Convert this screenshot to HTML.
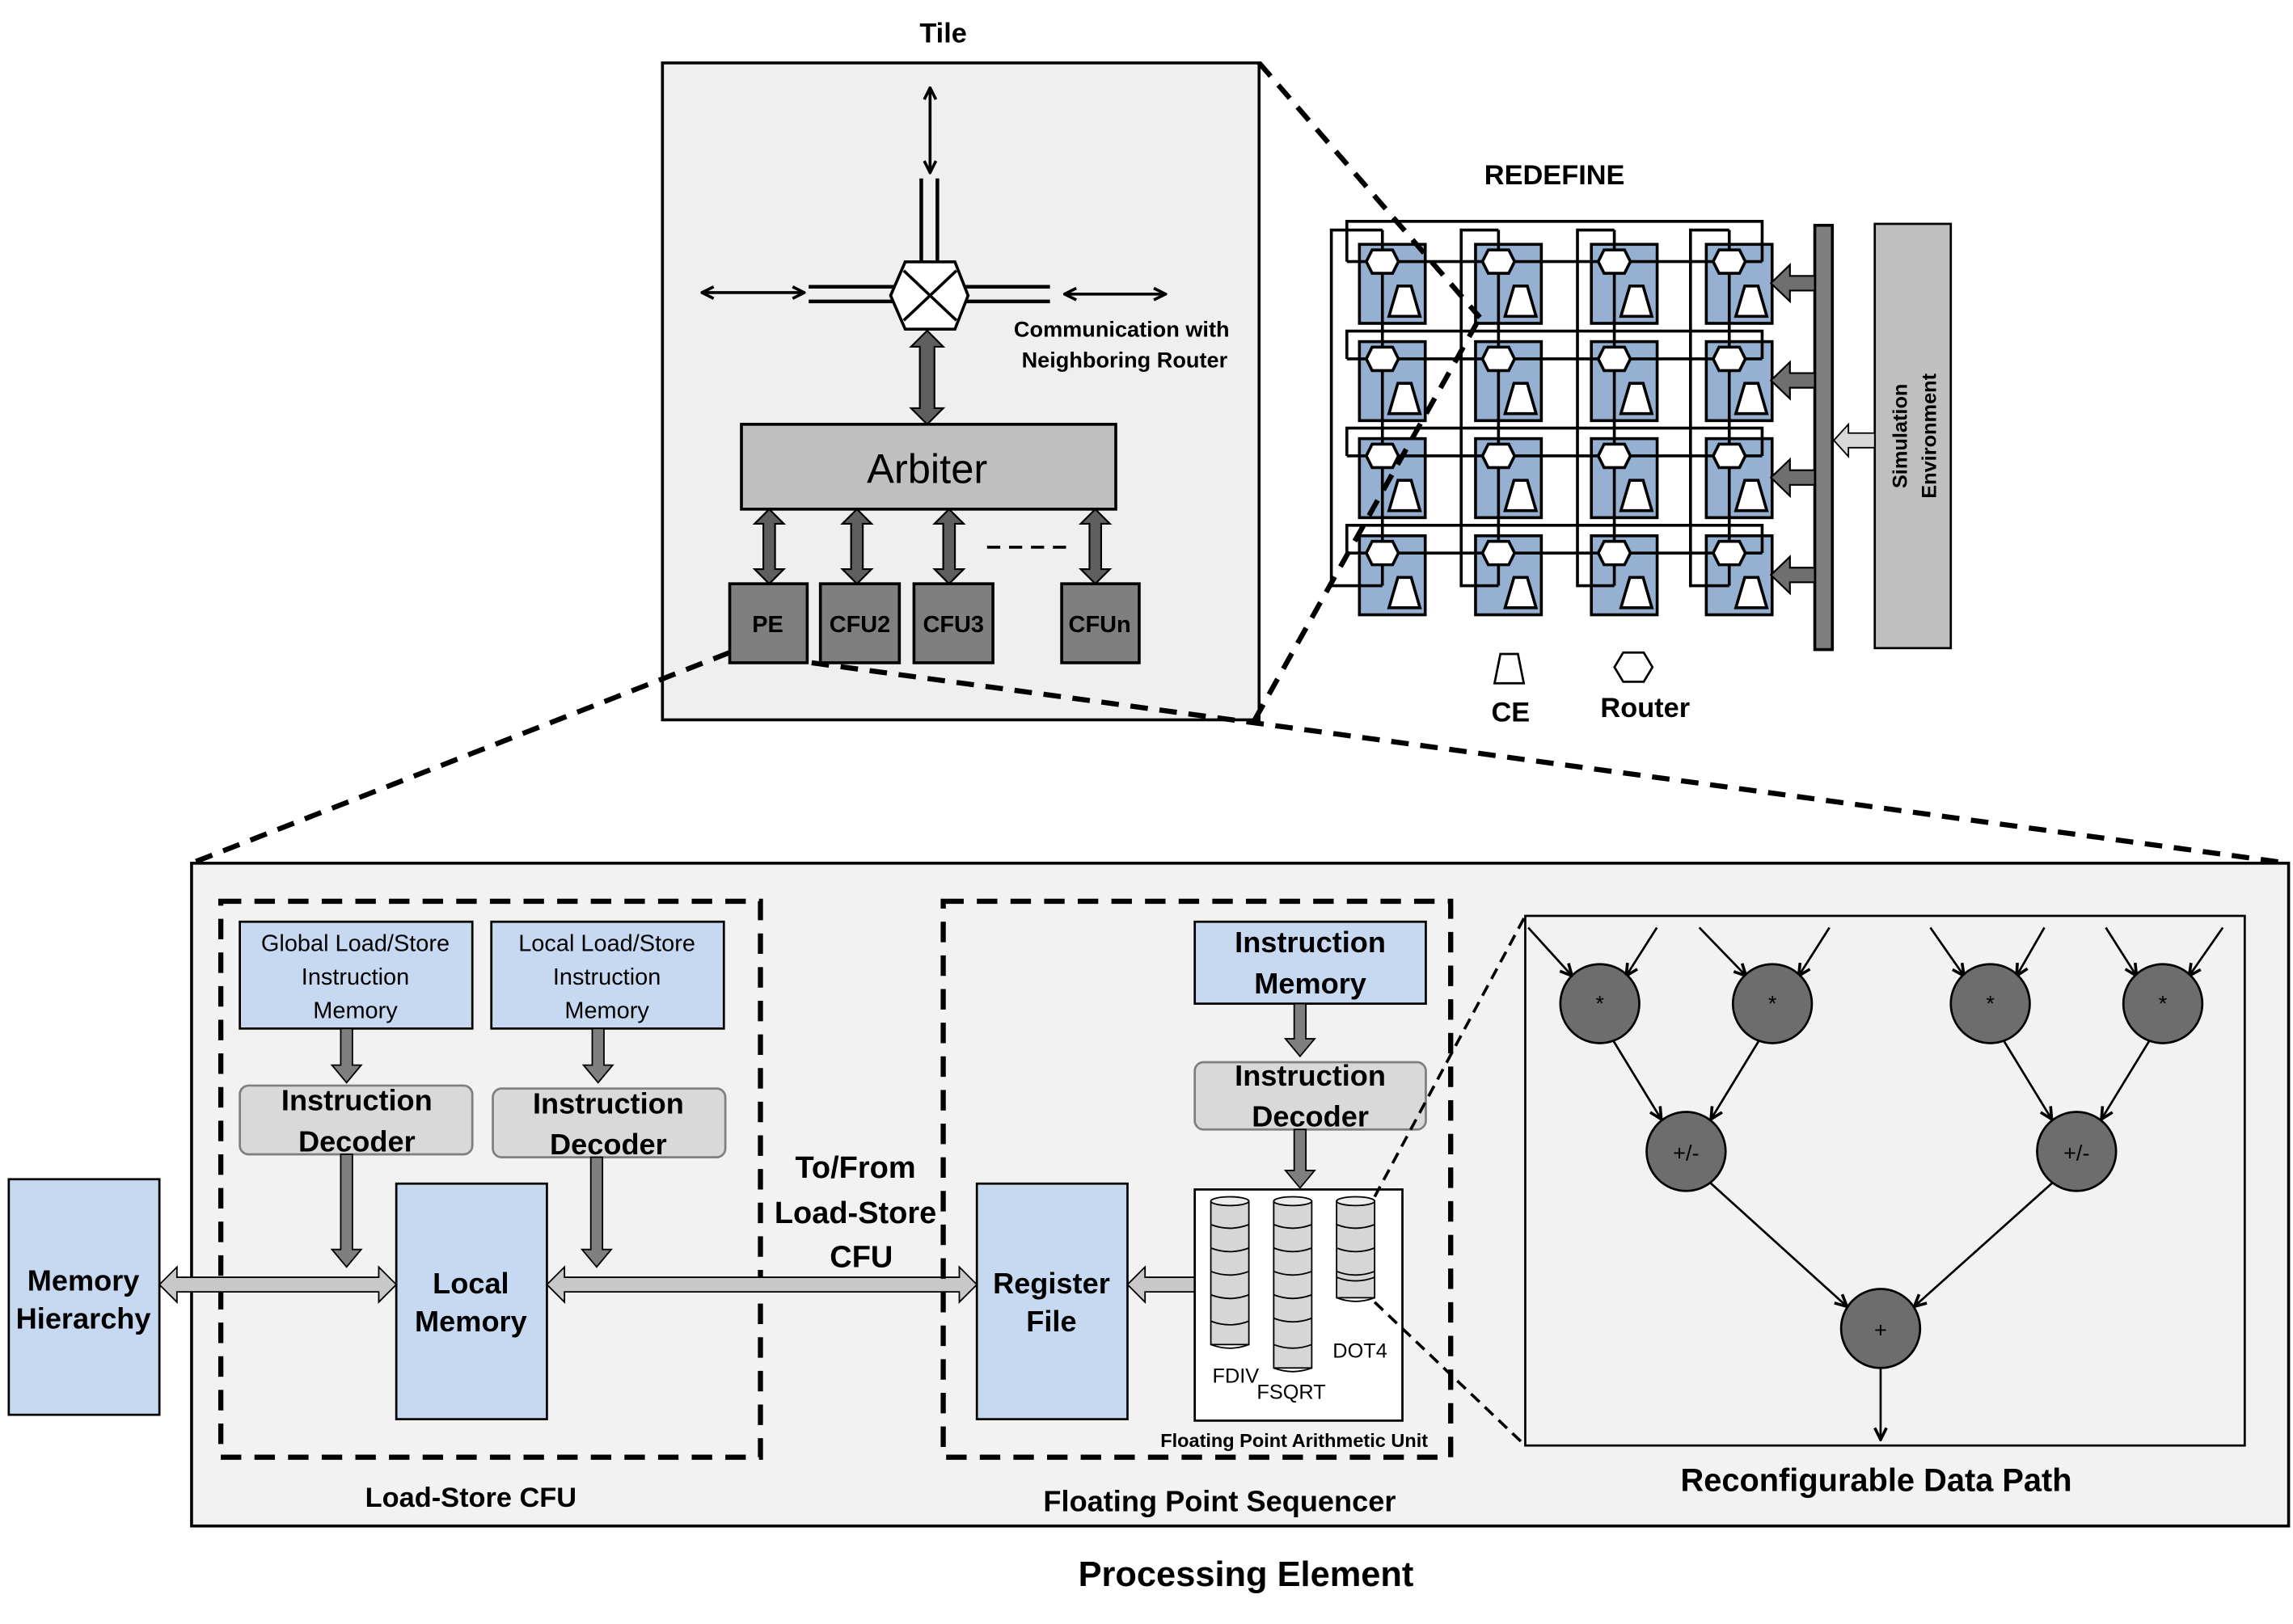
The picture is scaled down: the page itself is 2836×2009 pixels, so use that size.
<!DOCTYPE html>
<html><head><meta charset="utf-8"><style>
html,body{margin:0;padding:0;background:#fff}
svg{display:block}
text{font-family:"Liberation Sans",sans-serif;font-weight:bold;fill:#000}
</style></head><body>
<svg width="2836" height="2009" viewBox="0 0 1568 1110" preserveAspectRatio="none" xmlns="http://www.w3.org/2000/svg">
<defs>
<marker id="ah" markerWidth="10" markerHeight="10" refX="9" refY="5" orient="auto-start-reverse" markerUnits="userSpaceOnUse"><path d="M1,1 L9,5 L1,9" fill="none" stroke="#000" stroke-width="2"/></marker>
<marker id="af" markerWidth="10" markerHeight="10" refX="9" refY="5" orient="auto-start-reverse" markerUnits="userSpaceOnUse"><path d="M0,0 L10,5 L0,10 z" fill="#000"/></marker>
<rect id="cr" x="0" y="0" width="45" height="54" fill="#95b0d0" stroke="#000" stroke-width="2"/>
<polygon id="hx" points="-11,0 -7,-8 7,-8 11,0 7,8 -7,8" fill="#fff" stroke="#000" stroke-width="2"/>
<polygon id="tp" points="26.3,28.5 35.4,28.5 41.4,49.2 20.2,49.2" fill="#fff" stroke="#000" stroke-width="2"/>
</defs>

<!-- Tile -->
<text x="645" y="29" font-size="19" text-anchor="middle">Tile</text>
<rect x="453" y="43" width="408" height="449" fill="#efefef" stroke="#000" stroke-width="2"/>
<line x1="636" y1="118" x2="636" y2="60" stroke="#000" stroke-width="2" marker-end="url(#ah)" marker-start="url(#ah)"/>
<line x1="630" y1="122" x2="630" y2="180" stroke="#000" stroke-width="2.5"/>
<line x1="641" y1="122" x2="641" y2="180" stroke="#000" stroke-width="2.5"/>
<line x1="550" y1="200" x2="480" y2="200" stroke="#000" stroke-width="2" marker-end="url(#ah)" marker-start="url(#ah)"/>
<line x1="553" y1="196" x2="612" y2="196" stroke="#000" stroke-width="2.5"/>
<line x1="553" y1="206" x2="612" y2="206" stroke="#000" stroke-width="2.5"/>
<line x1="660" y1="196" x2="718" y2="196" stroke="#000" stroke-width="2.5"/>
<line x1="660" y1="206" x2="718" y2="206" stroke="#000" stroke-width="2.5"/>
<line x1="728" y1="201" x2="797" y2="201" stroke="#000" stroke-width="2" marker-end="url(#ah)" marker-start="url(#ah)"/>
<polygon points="609,202 619,179 653,179 662,202 653,225 619,225" fill="#fff" stroke="#000" stroke-width="2"/>
<line x1="618" y1="185" x2="654" y2="219" stroke="#000" stroke-width="2"/>
<line x1="654" y1="185" x2="618" y2="219" stroke="#000" stroke-width="2"/>
<text x="767" y="230" font-size="15" text-anchor="middle">Communication with</text>
<text x="769" y="251" font-size="15" text-anchor="middle">Neighboring Router</text>
<polygon points="634,226 645,237 639,237 639,279 645,279 634,290 623,279 629,279 629,237 623,237" fill="#5f5f5f" stroke="#000" stroke-width="1.2"/>
<rect x="507" y="290" width="256" height="58" fill="#bfbfbf" stroke="#000" stroke-width="2"/>
<text x="634" y="330" font-size="28" text-anchor="middle" style="font-weight:normal">Arbiter</text>
<g fill="#5f5f5f" stroke="#000" stroke-width="1.2">
<polygon points="526,348 536,358 530,358 530,389 536,389 526,399 516,389 522,389 522,358 516,358"/>
<polygon points="586,348 596,358 590,358 590,389 596,389 586,399 576,389 582,389 582,358 576,358"/>
<polygon points="649,348 659,358 653,358 653,389 659,389 649,399 639,389 645,389 645,358 639,358"/>
<polygon points="749,348 759,358 753,358 753,389 759,389 749,399 739,389 745,389 745,358 739,358"/>
</g>
<line x1="675" y1="374" x2="733" y2="374" stroke="#000" stroke-width="2" stroke-dasharray="9,6"/>
<g fill="#7f7f7f" stroke="#000" stroke-width="2">
<rect x="499" y="399" width="53" height="54"/><rect x="561" y="399" width="54" height="54"/>
<rect x="625" y="399" width="54" height="54"/><rect x="726" y="399" width="53" height="54"/>
</g>
<g font-size="16" text-anchor="middle">
<text x="525" y="432">PE</text><text x="588" y="432">CFU2</text><text x="652" y="432">CFU3</text><text x="752" y="432">CFUn</text>
</g>

<!-- REDEFINE -->
<text x="1063" y="126" font-size="19" text-anchor="middle">REDEFINE</text>
<g>
<use href="#cr" x="929.6" y="167"/><use href="#cr" x="1009" y="167"/><use href="#cr" x="1088.2" y="167"/><use href="#cr" x="1166.8" y="167"/>
<use href="#cr" x="929.6" y="233.5"/><use href="#cr" x="1009" y="233.5"/><use href="#cr" x="1088.2" y="233.5"/><use href="#cr" x="1166.8" y="233.5"/>
<use href="#cr" x="929.6" y="299.8"/><use href="#cr" x="1009" y="299.8"/><use href="#cr" x="1088.2" y="299.8"/><use href="#cr" x="1166.8" y="299.8"/>
<use href="#cr" x="929.6" y="366.2"/><use href="#cr" x="1009" y="366.2"/><use href="#cr" x="1088.2" y="366.2"/><use href="#cr" x="1166.8" y="366.2"/>
</g>
<g fill="none" stroke="#000" stroke-width="2">
<path d="M921,178.8 V151.3 H1205 V178.8 M921,178.8 H1205"/>
<path d="M921,245.3 V226.3 H1205 V245.3 M921,245.3 H1205"/>
<path d="M921,311.6 V292.6 H1205 V311.6 M921,311.6 H1205"/>
<path d="M921,378 V359 H1205 V378 M921,378 H1205"/>
<path d="M945.3,157.2 H910.4 V400.3 H945.3 M945.3,157.2 V400.3"/>
<path d="M1024.7,157.2 H999.2 V400.3 H1024.7 M1024.7,157.2 V400.3"/>
<path d="M1103.9,157.2 H1078.7 V400.3 H1103.9 M1103.9,157.2 V400.3"/>
<path d="M1182.5,157.2 H1156 V400.3 H1182.5 M1182.5,157.2 V400.3"/>
</g>
<g>
<use href="#hx" x="945.3" y="178.8"/><use href="#hx" x="1024.7" y="178.8"/><use href="#hx" x="1103.9" y="178.8"/><use href="#hx" x="1182.5" y="178.8"/>
<use href="#hx" x="945.3" y="245.3"/><use href="#hx" x="1024.7" y="245.3"/><use href="#hx" x="1103.9" y="245.3"/><use href="#hx" x="1182.5" y="245.3"/>
<use href="#hx" x="945.3" y="311.6"/><use href="#hx" x="1024.7" y="311.6"/><use href="#hx" x="1103.9" y="311.6"/><use href="#hx" x="1182.5" y="311.6"/>
<use href="#hx" x="945.3" y="378"/><use href="#hx" x="1024.7" y="378"/><use href="#hx" x="1103.9" y="378"/><use href="#hx" x="1182.5" y="378"/>
<use href="#tp" x="929.6" y="167"/><use href="#tp" x="1009" y="167"/><use href="#tp" x="1088.2" y="167"/><use href="#tp" x="1166.8" y="167"/>
<use href="#tp" x="929.6" y="233.5"/><use href="#tp" x="1009" y="233.5"/><use href="#tp" x="1088.2" y="233.5"/><use href="#tp" x="1166.8" y="233.5"/>
<use href="#tp" x="929.6" y="299.8"/><use href="#tp" x="1009" y="299.8"/><use href="#tp" x="1088.2" y="299.8"/><use href="#tp" x="1166.8" y="299.8"/>
<use href="#tp" x="929.6" y="366.2"/><use href="#tp" x="1009" y="366.2"/><use href="#tp" x="1088.2" y="366.2"/><use href="#tp" x="1166.8" y="366.2"/>
</g>
<rect x="1241" y="154" width="12" height="290" fill="#7f7f7f" stroke="#000" stroke-width="2"/>
<g fill="#6f6f6f" stroke="#000" stroke-width="1.2">
<polygon points="1241,188.6 1224,188.6 1224,181 1211,193.6 1224,206 1224,198.6 1241,198.6"/>
<polygon points="1241,255 1224,255 1224,247.5 1211,260 1224,272.5 1224,265 1241,265"/>
<polygon points="1241,321.4 1224,321.4 1224,314 1211,326.4 1224,339 1224,331.4 1241,331.4"/>
<polygon points="1241,388 1224,388 1224,380.5 1211,393 1224,405.5 1224,398 1241,398"/>
</g>
<rect x="1282" y="153" width="52" height="290" fill="#bfbfbf" stroke="#000" stroke-width="1.5"/>
<polygon points="1282,296 1264,296 1264,290 1254,301 1264,312 1264,306 1282,306" fill="#d9d9d9" stroke="#000" stroke-width="1"/>
<text transform="translate(1304,298) rotate(-90)" font-size="14" text-anchor="middle">Simulation</text>
<text transform="translate(1324,298) rotate(-90)" font-size="14" text-anchor="middle">Environment</text>
<polygon points="1026,447 1038,447 1042,467 1022,467" fill="#fff" stroke="#000" stroke-width="1.5"/>
<text x="1033" y="493" font-size="19" text-anchor="middle">CE</text>
<polygon points="1104,456 1110,446 1124,446 1130,456 1124,466 1110,466" fill="#fff" stroke="#000" stroke-width="1.5"/>
<text x="1125" y="490" font-size="19" text-anchor="middle">Router</text>

<!-- dashed zoom lines -->
<g stroke="#000" stroke-width="3.5" stroke-dasharray="12,8" fill="none">
<line x1="861" y1="43" x2="1012" y2="217"/>
<line x1="858" y1="492" x2="1012" y2="217"/>
<line x1="499" y1="446" x2="131" y2="590"/>
<line x1="555" y1="453" x2="1565" y2="590"/>
</g>

<!-- Processing Element -->
<rect x="131" y="590" width="1434" height="453" fill="#f2f2f2" stroke="#000" stroke-width="2"/>
<text x="852" y="1084" font-size="24" text-anchor="middle">Processing Element</text>

<rect x="151" y="616" width="369" height="380" fill="none" stroke="#000" stroke-width="3.5" stroke-dasharray="14,9"/>
<text x="322" y="1030" font-size="19" text-anchor="middle">Load-Store CFU</text>
<g fill="#c6d9f1" stroke="#000" stroke-width="1.5">
<rect x="164" y="630" width="159" height="73"/><rect x="336" y="630" width="159" height="73"/>
<rect x="271" y="809" width="103" height="161"/><rect x="6" y="806" width="103" height="161"/>
<rect x="668" y="809" width="103" height="161"/><rect x="817" y="630" width="158" height="56"/>
</g>
<g font-size="16" text-anchor="middle">
<text x="243" y="650" style="font-weight:normal">Global Load/Store</text><text x="243" y="673" style="font-weight:normal">Instruction</text><text x="243" y="696" style="font-weight:normal">Memory</text>
<text x="415" y="650" style="font-weight:normal">Local Load/Store</text><text x="415" y="673" style="font-weight:normal">Instruction</text><text x="415" y="696" style="font-weight:normal">Memory</text>
</g>
<g fill="#d9d9d9" stroke="#7f7f7f" stroke-width="1.5">
<rect x="164" y="742" width="159" height="47" rx="6"/><rect x="337" y="744" width="159" height="47" rx="6"/>
<rect x="817" y="726" width="158" height="46" rx="6"/>
</g>
<g font-size="20" text-anchor="middle">
<text x="244" y="759">Instruction</text><text x="244" y="787">Decoder</text>
<text x="416" y="761">Instruction</text><text x="416" y="789">Decoder</text>
<text x="896" y="742">Instruction</text><text x="896" y="770">Decoder</text>
<text x="896" y="651">Instruction</text><text x="896" y="679">Memory</text>
<text x="322" y="884">Local</text><text x="322" y="910">Memory</text>
<text x="57" y="882">Memory</text><text x="57" y="908">Hierarchy</text>
<text x="719" y="884">Register</text><text x="719" y="910">File</text>
<text x="585" y="805" font-size="21">To/From</text><text x="585" y="836" font-size="21">Load-Store</text><text x="589" y="866" font-size="21">CFU</text>
</g>
<g fill="#7f7f7f" stroke="#000" stroke-width="1">
<polygon points="233,703 241,703 241,728 247,728 237,740 227,728 233,728"/>
<polygon points="405,703 413,703 413,728 419,728 409,740 399,728 405,728"/>
<polygon points="233,789 241,789 241,854 247,854 237,866 227,854 233,854"/>
<polygon points="404,791 412,791 412,854 418,854 408,866 398,854 404,854"/>
<polygon points="885,686 893,686 893,710 899,710 889,722 879,710 885,710"/>
<polygon points="885,772 893,772 893,800 899,800 889,812 879,800 885,800"/>
</g>
<g fill="#c8c8c8" stroke="#000" stroke-width="1">
<polygon points="109,878 121,866 121,873 259,873 259,866 271,878 259,890 259,883 121,883 121,890"/>
<polygon points="374,878 386,866 386,873 656,873 656,866 668,878 656,890 656,883 386,883 386,890"/>
<polygon points="817,873 783,873 783,866 771,878 783,890 783,883 817,883"/>
</g>

<rect x="645" y="616" width="347" height="380" fill="none" stroke="#000" stroke-width="3.5" stroke-dasharray="14,9"/>
<text x="834" y="1033" font-size="20" text-anchor="middle">Floating Point Sequencer</text>
<rect x="817" y="813" width="142" height="158" fill="#fff" stroke="#000" stroke-width="1.5"/>
<text x="885" y="989" font-size="13" text-anchor="middle">Floating Point Arithmetic Unit</text>
<g fill="#d6d6d6" stroke="#000" stroke-width="1">
<rect x="828" y="821" width="26" height="98"/><rect x="871" y="821" width="26" height="114"/><rect x="914" y="821" width="26" height="66"/>
</g>
<g fill="none" stroke="#000" stroke-width="1">
<path d="M828,837 q13,5 26,0 M828,853 q13,5 26,0 M828,869 q13,5 26,0 M828,885 q13,5 26,0 M828,903 q13,5 26,0 M828,919 q13,5 26,0"/>
<path d="M871,837 q13,5 26,0 M871,853 q13,5 26,0 M871,869 q13,5 26,0 M871,885 q13,5 26,0 M871,901 q13,5 26,0 M871,919 q13,5 26,0 M871,935 q13,5 26,0"/>
<path d="M914,837 q13,5 26,0 M914,853 q13,5 26,0 M914,869 q13,5 26,0 M914,873 q13,5 26,0 M914,887 q13,5 26,0"/>
</g>
<g fill="#ececec" stroke="#000" stroke-width="1">
<ellipse cx="841" cy="821" rx="13" ry="3"/><ellipse cx="884" cy="821" rx="13" ry="3"/><ellipse cx="927" cy="821" rx="13" ry="3"/>
</g>
<g font-size="14" text-anchor="middle">
<text x="845" y="945" style="font-weight:normal">FDIV</text><text x="883" y="956" style="font-weight:normal">FSQRT</text><text x="930" y="928" style="font-weight:normal">DOT4</text>
</g>

<g stroke="#000" stroke-width="2" stroke-dasharray="8,5" fill="none">
<line x1="940" y1="818" x2="1043" y2="626"/>
<line x1="940" y1="890" x2="1043" y2="988"/>
</g>

<!-- RDP -->
<rect x="1043" y="626" width="492" height="362" fill="#f2f2f2" stroke="#000" stroke-width="1.5"/>
<text x="1283" y="1019" font-size="22" text-anchor="middle">Reconfigurable Data Path</text>
<g stroke="#000" stroke-width="1.5" marker-end="url(#ah)">
<line x1="1045" y1="634" x2="1075" y2="667"/><line x1="1133" y1="634" x2="1112" y2="667"/>
<line x1="1162" y1="634" x2="1194" y2="667"/><line x1="1251" y1="634" x2="1230" y2="667"/>
<line x1="1320" y1="634" x2="1343" y2="667"/><line x1="1398" y1="634" x2="1379" y2="667"/>
<line x1="1440" y1="634" x2="1461" y2="667"/><line x1="1520" y1="634" x2="1497" y2="667"/>
<line x1="1103" y1="711" x2="1136" y2="765"/><line x1="1203" y1="711" x2="1170" y2="765"/>
<line x1="1370" y1="711" x2="1403" y2="765"/><line x1="1470" y1="711" x2="1437" y2="765"/>
<line x1="1169" y1="808" x2="1263" y2="893"/><line x1="1404" y1="808" x2="1309" y2="893"/>
<line x1="1286" y1="935" x2="1286" y2="984"/>
</g>
<g fill="#6d6d6d" stroke="#000" stroke-width="1.5">
<circle cx="1094" cy="686" r="27"/><circle cx="1212" cy="686" r="27"/><circle cx="1361" cy="686" r="27"/><circle cx="1479" cy="686" r="27"/>
<circle cx="1153" cy="787" r="27"/><circle cx="1420" cy="787" r="27"/><circle cx="1286" cy="908" r="27"/>
</g>
<g font-size="15" text-anchor="middle">
<text x="1094" y="691" style="font-weight:normal">*</text><text x="1212" y="691" style="font-weight:normal">*</text><text x="1361" y="691" style="font-weight:normal">*</text><text x="1479" y="691" style="font-weight:normal">*</text>
<text x="1153" y="793" style="font-weight:normal">+/-</text><text x="1420" y="793" style="font-weight:normal">+/-</text><text x="1286" y="914" style="font-weight:normal">+</text>
</g>
</svg>
</body></html>
